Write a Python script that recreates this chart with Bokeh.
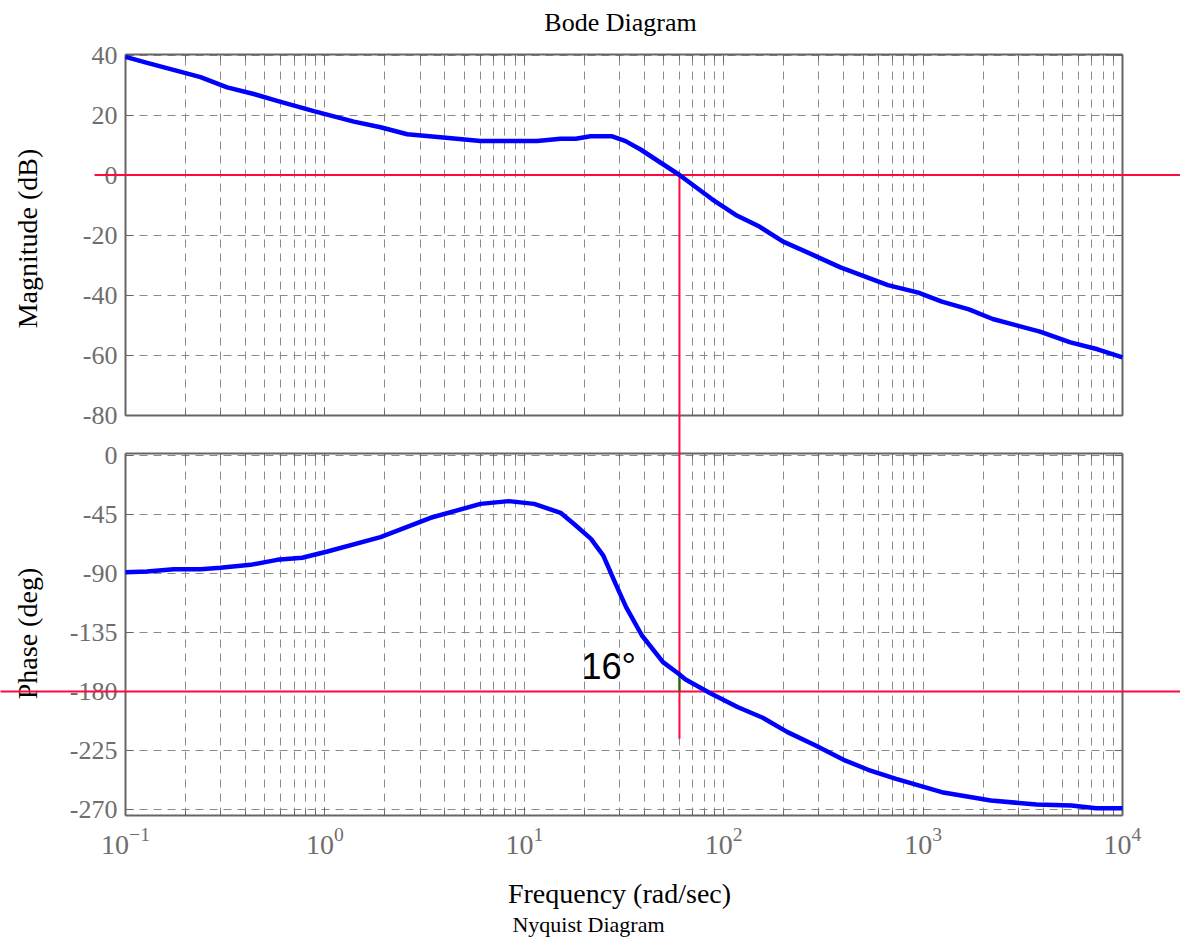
import math
import numpy as np
from bokeh.plotting import figure
from bokeh.models import Range1d, LinearAxis, LogAxis, FixedTicker, Grid, Label
from bokeh.embed import file_html
from bokeh.resources import INLINE

# ---------------- data ----------------
freq_mag = [0.1, 0.1285, 0.196, 0.2377, 0.3234, 0.4398, 0.5764, 0.880, 1.397, 1.901,
            2.588, 3.802, 6.03, 11.6, 15.2, 18.1, 21.5, 27.6, 32.2, 38.3, 60.0, 87.5,
            114.9, 151, 198.6, 282, 385, 666, 946, 1242, 1698, 2234, 3855, 5481, 7497, 10000]
mag_db = [39.4, 37.4, 34.1, 32.6, 29.2, 27.0, 24.7, 21.3, 17.8, 15.9,
          13.6, 12.6, 11.3, 11.3, 12.1, 12.1, 12.9, 12.9, 11.3, 8.5, 0.0, -8.1,
          -13.3, -17.2, -22.2, -26.7, -30.8, -36.7, -39.2, -42.2, -44.8, -48.0, -52.2, -55.8, -58.1, -60.8]

freq_phase = [0.1, 0.128, 0.175, 0.238, 0.299, 0.424, 0.576, 0.769, 1.03, 1.90, 3.39,
              6.03, 8.36, 11.2, 15.2, 17.7, 21.6, 24.9, 28.7, 32.4, 38.9, 49.6, 59.4,
              64.4, 85.7, 118, 157, 209, 289, 399, 530, 732, 1241, 2187, 3706, 5546, 7375, 10000]
phase_deg = [-89.0, -88.5, -86.7, -86.7, -85.7, -83.4, -79.6, -78.0, -73.2, -62.3, -47.5,
             -36.9, -34.8, -36.9, -43.7, -52.1, -63.6, -76.3, -97.9, -115.7, -137.3, -157.6, -166.5,
             -170.9, -181.3, -192.0, -200.0, -211.0, -221.2, -232.1, -239.7, -246.6, -256.8, -263.1, -266.2, -267.0, -269.0, -269.0]

mag_ticks = [40, 20, 0, -20, -40, -60, -80]
phase_ticks = [0, -45, -90, -135, -180, -225, -270]
decades = [-1, 0, 1, 2, 3, 4]
crossover_freq = 60.0
phase_margin = 16
marker_bottom_deg = -216
margin_text = "16°"

# ---------------- layout helpers (reference pixel -> data) ----------------
W, H, OFF = 1180, 941, 0
X0PX, DEC = 125.0, 199.4
MAG0, MAGS = 174.5, 3.0
PH0, PHS = 455.0, 354.0 / 270.0


def fx(px):
    return 10 ** (-1 + (px - X0PX) / DEC)


def my(py):
    return (MAG0 - py) / MAGS


def ph(py):
    return (PH0 - py) / PHS


def phase_to_mag(d):
    return my(PH0 - d * PHS)


MAG_TOP, MAG_BOT = my(53.5), -80.0
PH_TOP, PH_BOT = ph(453.0), ph(815.0)
XMIN, XMAX = 10.0 ** decades[0], 10.0 ** decades[-1]

p = figure(width=W, height=H, x_axis_type="log", x_axis_location=None, y_axis_location=None,
           x_range=Range1d(fx(OFF), fx(OFF + W)), y_range=Range1d(my(OFF + H), my(OFF)),
           output_backend="svg", toolbar_location=None, min_border=0, title=None)
p.extra_y_ranges = {"phase": Range1d(ph(OFF + H), ph(OFF))}
p.outline_line_color = None
p.background_fill_color = "white"
p.border_fill_color = "white"
p.center = [c for c in p.center if not isinstance(c, Grid)]

major_x = [10.0 ** k for k in decades]
minor_x = [m * 10.0 ** k for k in decades[:-1] for m in range(2, 10)]

GRID = dict(grid_line_color="#8a8a8a", grid_line_width=1, grid_line_dash="8 6",
            minor_grid_line_color="#8a8a8a", minor_grid_line_width=1, minor_grid_line_dash="8 6")
AX = dict(axis_line_color="#666666", axis_line_width=2,
          major_tick_line_color="#666666", minor_tick_line_color="#666666",
          major_tick_out=0, minor_tick_out=0, major_tick_in=8, minor_tick_in=5,
          major_label_text_font="Liberation Serif", major_label_text_color="#6e6e6e")

panels = [("default", MAG_BOT, MAG_TOP, mag_ticks), ("phase", PH_BOT, PH_TOP, phase_ticks)]
for i, (yname, b0, b1, yt) in enumerate(panels):
    gx = Grid(dimension=0, y_range_name=yname, cross_bounds=(b0, b1),
              ticker=FixedTicker(ticks=major_x, minor_ticks=minor_x), **GRID)
    gy = Grid(dimension=1, y_range_name=yname, cross_bounds=(XMIN, XMAX),
              ticker=FixedTicker(ticks=yt), **GRID)
    p.add_layout(gx, "center")
    p.add_layout(gy, "center")

    left = LinearAxis(y_range_name=yname, fixed_location=XMIN, bounds=(b0, b1),
                      ticker=FixedTicker(ticks=yt), major_label_standoff=8,
                      major_label_overrides={t: str(t) for t in yt},
                      major_label_text_font_size="26px", **AX)
    p.add_layout(left, "left")
    right = LinearAxis(y_range_name=yname, fixed_location=XMAX, bounds=(b0, b1),
                       ticker=FixedTicker(ticks=yt), **{**AX, "major_label_text_color": None})
    p.add_layout(right, "right")
    top = LogAxis(y_range_name=yname, fixed_location=b1, bounds=(XMIN, XMAX),
                  ticker=FixedTicker(ticks=major_x, minor_ticks=minor_x),
                  **{**AX, "major_label_text_color": None})
    p.add_layout(top, "above")
    bottom_kw = dict(AX)
    if i == 0:
        bottom_kw["major_label_text_color"] = None
    bottom = LogAxis(y_range_name=yname, fixed_location=b0, bounds=(XMIN, XMAX),
                     ticker=FixedTicker(ticks=major_x, minor_ticks=minor_x),
                     major_label_standoff=12, major_label_text_font_size="28px", **bottom_kw)
    p.add_layout(bottom, "below")

RED = "#ff0a3c"
# 0 dB and -180 deg reference lines, crossover marker
p.segment(x0=[fx(94)], y0=[0], x1=[fx(OFF + W)], y1=[0], line_color=RED, line_width=2, level="overlay")
p.segment(x0=[fx(OFF)], y0=[-180], x1=[fx(OFF + W)], y1=[-180], y_range_name="phase",
          line_color=RED, line_width=2, level="overlay")
p.segment(x0=[crossover_freq], y0=[0], x1=[crossover_freq], y1=[phase_to_mag(marker_bottom_deg)],
          line_color=RED, line_width=2, level="overlay")
ph_at_wc = float(np.interp(math.log10(crossover_freq), np.log10(freq_phase), phase_deg))
p.segment(x0=[crossover_freq], y0=[ph_at_wc], x1=[crossover_freq], y1=[-180], y_range_name="phase",
          line_color="#008000", line_width=2, level="overlay")

# curves
p.line(freq_mag, mag_db, line_color="#0000ff", line_width=4.5, level="overlay")
p.line(freq_phase, phase_deg, y_range_name="phase", line_color="#0000ff", line_width=4.5, level="overlay")

SERIF = "Liberation Serif"
p.add_layout(Label(x=fx(620), y=my(22), text="Bode Diagram", text_align="center",
                   text_baseline="middle", text_font=SERIF, text_font_size="26px",
                   text_color="black"))
p.add_layout(Label(x=fx(27), y=my(238), text="Magnitude (dB)", angle=math.pi / 2,
                   text_align="center", text_baseline="middle", text_font=SERIF,
                   text_font_size="28px", text_color="black"))
p.add_layout(Label(x=fx(27), y=ph(633), y_range_name="phase", text="Phase (deg)", angle=math.pi / 2,
                   text_align="center", text_baseline="middle", text_font=SERIF,
                   text_font_size="28px", text_color="black"))
p.add_layout(Label(x=fx(619), y=my(893), text="Frequency (rad/sec)", text_align="center",
                   text_baseline="middle", text_font=SERIF, text_font_size="28px",
                   text_color="black"))
p.add_layout(Label(x=fx(588), y=my(924), text="Nyquist Diagram", text_align="center",
                   text_baseline="middle", text_font=SERIF, text_font_size="22px",
                   text_color="black"))
p.add_layout(Label(x=fx(581), y=ph(666), y_range_name="phase", text=margin_text, text_align="left",
                   text_baseline="middle", text_font="Liberation Sans", text_font_size="36px",
                   text_color="black"))

open("out.html", "w").write(file_html(p, INLINE))
